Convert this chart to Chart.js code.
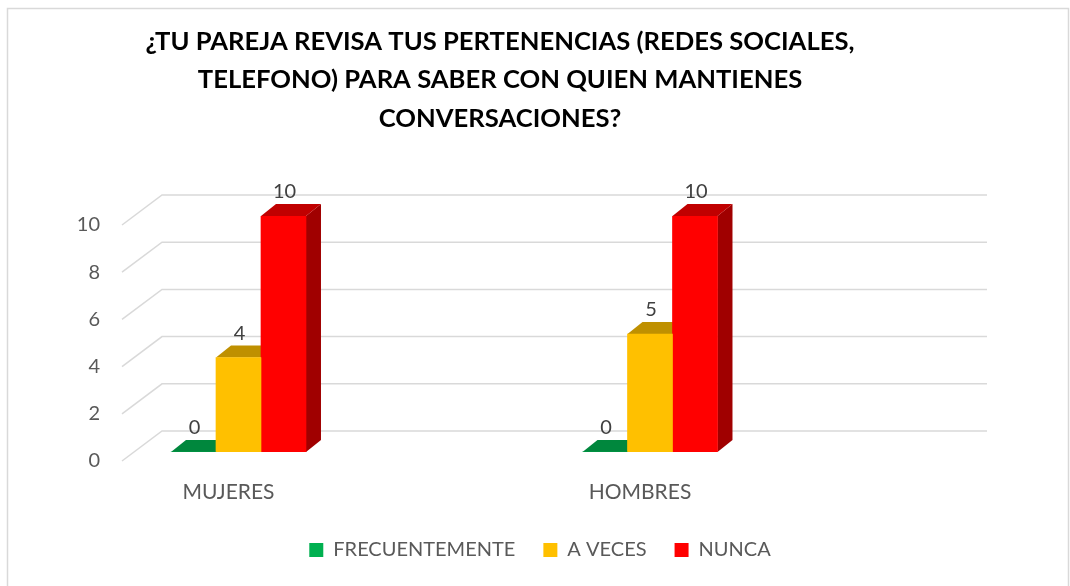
<!DOCTYPE html>
<html>
<head>
<meta charset="utf-8">
<script src="https://cdn.jsdelivr.net/npm/chart.js@4.4.1/dist/chart.umd.min.js"></script>
<style>
  html, body { margin: 0; padding: 0; background: #fff; }
  #wrap { width: 1070px; height: 586px; }
</style>
</head>
<body>
<div id="wrap"><canvas id="grafico" width="1070" height="586"></canvas></div>
<script>
// datos
const categorias = ['MUJERES', 'HOMBRES'];
const series = ['FRECUENTEMENTE', 'A VECES', 'NUNCA'];
const frecuentemente = [0, 0];
const aVeces = [4, 5];
const nunca = [10, 10];
const ticksY = [0, 2, 4, 6, 8, 10];
const tituloLineas = [
  '¿TU PAREJA REVISA TUS PERTENENCIAS (REDES SOCIALES,',
  'TELEFONO) PARA SABER CON QUIEN MANTIENES',
  'CONVERSACIONES?'
];

// colores de cada serie: cara frontal, tapa y lateral
const colorFrente = ['#00B050', '#FFC000', '#FF0000'];
const colorTapa = ['#00873D', '#BF9000', '#C00000'];
const colorLado = ['#006B30', '#A07800', '#A00000'];

// profundidad del efecto 3D
const DX = 15, DY = -12;

Chart.defaults.font.family = 'Lato, "Open Sans", sans-serif';
Chart.defaults.color = '#595959';

const efecto3D = {
  id: 'efecto3D',
  beforeDraw(chart) {
    const ctx = chart.ctx;
    ctx.save();
    ctx.fillStyle = '#ffffff';
    ctx.fillRect(0, 0, chart.width, chart.height);
    ctx.strokeStyle = '#d9d9d9';
    ctx.lineWidth = 1.5;
    ctx.strokeRect(7.5, 8.5, chart.width - 9, chart.height + 20);
    ctx.restore();
  },
  beforeDatasetsDraw(chart) {
    const ctx = chart.ctx;
    const y = chart.scales.y;
    const area = chart.chartArea;
    ctx.save();
    // lineas de la pared del fondo y del lateral
    ctx.strokeStyle = '#d9d9d9';
    ctx.lineWidth = 1.5;
    y.ticks.forEach(t => {
      const py = y.getPixelForValue(t.value);
      ctx.beginPath();
      ctx.moveTo(area.left - 3, py + 9);
      ctx.lineTo(area.left + 37, py - 21);
      ctx.lineTo(area.left + 862, py - 21);
      ctx.stroke();
    });
    // lateral y tapa de cada barra (el frente lo dibuja Chart.js)
    chart.data.datasets.forEach((ds, i) => {
      chart.getDatasetMeta(i).data.forEach(bar => {
        const l = bar.x - bar.width / 2;
        const r = bar.x + bar.width / 2;
        const top = bar.y, base = bar.base;
        ctx.fillStyle = colorLado[i];
        ctx.beginPath();
        ctx.moveTo(r, base);
        ctx.lineTo(r + DX, base + DY);
        ctx.lineTo(r + DX, top + DY);
        ctx.lineTo(r, top);
        ctx.closePath();
        ctx.fill();
        ctx.fillStyle = colorTapa[i];
        ctx.beginPath();
        ctx.moveTo(l, top);
        ctx.lineTo(l + DX, top + DY);
        ctx.lineTo(r + DX, top + DY);
        ctx.lineTo(r, top);
        ctx.closePath();
        ctx.fill();
      });
    });
    ctx.restore();
  },
  afterDatasetsDraw(chart) {
    const ctx = chart.ctx;
    ctx.save();
    ctx.font = '20px Lato';
    ctx.fillStyle = '#404040';
    ctx.textAlign = 'center';
    ctx.textBaseline = 'middle';
    chart.data.datasets.forEach((ds, i) => {
      chart.getDatasetMeta(i).data.forEach((bar, j) => {
        ctx.fillText(String(ds.data[j].y), bar.x + 1, bar.y + DY - 12);
      });
    });
    // titulo
    ctx.fillStyle = '#000000';
    ctx.font = 'bold 24px Lato';
    const k = 709 / ctx.measureText(tituloLineas[0]).width;
    tituloLineas.forEach((linea, i) => {
      ctx.save();
      ctx.translate(500, 42 + i * 38.5);
      ctx.scale(k, 1);
      ctx.fillText(linea, 0, 0);
      ctx.restore();
    });
    ctx.restore();
  }
};

const valores = [frecuentemente, aVeces, nunca];

new Chart(document.getElementById('grafico'), {
  type: 'bar',
  data: {
    datasets: series.map((nombre, i) => ({
      label: nombre,
      data: valores[i].map((v, j) => ({ x: j, y: v })),
      backgroundColor: colorFrente[i],
      borderWidth: 0,
      barThickness: 45
    }))
  },
  options: {
    responsive: false,
    animation: false,
    layout: { padding: { left: 10, right: 0, top: 216, bottom: 16 } },
    scales: {
      x: {
        type: 'linear',
        offset: false,
        min: -0.2758,
        max: 2.0207,
        grid: { display: false, drawTicks: false },
        border: { display: false },
        afterBuildTicks: axis => { axis.ticks = categorias.map((c, i) => ({ value: i })); },
        afterFit: axis => { axis.height = 60; },
        ticks: {
          padding: 28,
          labelOffset: -10,
          font: { size: 21 },
          callback: v => categorias[v]
        }
      },
      y: {
        min: 0,
        max: 10,
        grid: { display: false, drawTicks: false },
        border: { display: false },
        afterBuildTicks: axis => { axis.ticks = ticksY.map(v => ({ value: v })); },
        afterFit: axis => { axis.width = 115; },
        ticks: { padding: 25, labelOffset: 9, font: { size: 20 } }
      }
    },
    plugins: {
      legend: {
        position: 'bottom',
        labels: { boxWidth: 14, boxHeight: 14, padding: 28, font: { size: 20 }, color: '#595959' }
      },
      tooltip: { enabled: false }
    }
  },
  plugins: [efecto3D]
});
</script>
</body>
</html>
